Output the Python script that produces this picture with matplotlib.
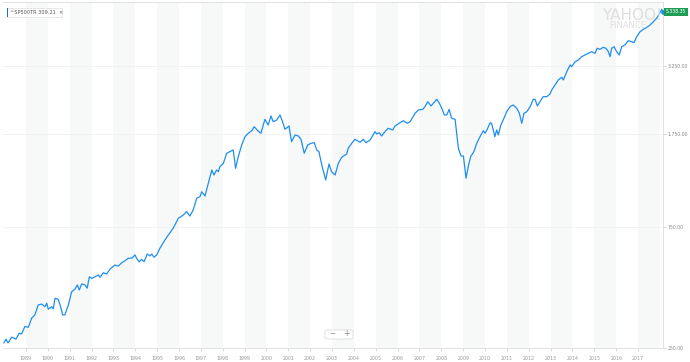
import matplotlib
matplotlib.use("Agg")
import matplotlib.pyplot as plt
from matplotlib.patches import FancyBboxPatch, Rectangle
from matplotlib.ticker import NullLocator

# ---- data ----
years = [1987.99, 1988.09, 1988.18, 1988.35, 1988.54, 1988.69, 1988.80, 1988.95,
         1989.11, 1989.26, 1989.41, 1989.56, 1989.72, 1989.87, 1989.95, 1990.02,
         1990.18, 1990.25, 1990.33, 1990.48, 1990.56, 1990.68, 1990.78, 1990.94,
         1991.09, 1991.24, 1991.35, 1991.44, 1991.55, 1991.70, 1991.80, 1991.90,
         1992.01, 1992.16, 1992.31, 1992.39, 1992.54, 1992.69, 1992.84, 1993.07,
         1993.22, 1993.38, 1993.53, 1993.68, 1993.84, 1993.99, 1994.06, 1994.18,
         1994.29, 1994.40, 1994.55, 1994.67, 1994.75, 1994.86, 1994.98, 1995.13,
         1995.28, 1995.44, 1995.59, 1995.74, 1995.97, 1996.20, 1996.35, 1996.50,
         1996.65, 1996.81, 1996.96, 1997.04, 1997.19, 1997.34, 1997.50, 1997.60,
         1997.72, 1997.80, 1997.87, 1998.03, 1998.18, 1998.33, 1998.48, 1998.59,
         1998.71, 1998.87, 1999.02, 1999.17, 1999.33, 1999.44, 1999.60, 1999.75,
         1999.93, 2000.08, 2000.21, 2000.31, 2000.47, 2000.62, 2000.72, 2000.85,
         2001.03, 2001.15, 2001.31, 2001.46, 2001.58, 2001.73, 2001.89, 2002.04,
         2002.19, 2002.30, 2002.40, 2002.55, 2002.71, 2002.86, 2002.98, 2003.14,
         2003.29, 2003.44, 2003.67, 2003.74, 2003.90, 2004.05, 2004.28, 2004.43,
         2004.55, 2004.74, 2004.97, 2005.04, 2005.16, 2005.27, 2005.42, 2005.57,
         2005.78, 2005.88, 2006.11, 2006.26, 2006.44, 2006.57, 2006.80, 2006.95,
         2007.15, 2007.25, 2007.38, 2007.53, 2007.66, 2007.79, 2007.91, 2008.02,
         2008.14, 2008.25, 2008.36, 2008.47, 2008.63, 2008.78, 2008.90, 2009.01,
         2009.13, 2009.23, 2009.34, 2009.49, 2009.62, 2009.77, 2009.92, 2010.00,
         2010.10, 2010.23, 2010.30, 2010.45, 2010.53, 2010.61, 2010.72, 2010.84,
         2010.99, 2011.14, 2011.29, 2011.45, 2011.57, 2011.68, 2011.78, 2011.91,
         2012.06, 2012.21, 2012.29, 2012.39, 2012.51, 2012.66, 2012.82, 2012.97,
         2013.05, 2013.20, 2013.35, 2013.51, 2013.58, 2013.74, 2013.89, 2013.96,
         2014.12, 2014.27, 2014.42, 2014.57, 2014.72, 2014.88, 2015.03, 2015.13,
         2015.26, 2015.41, 2015.53, 2015.64, 2015.72, 2015.79, 2015.90, 2016.02,
         2016.14, 2016.25, 2016.40, 2016.55, 2016.71, 2016.81, 2016.94, 2017.09,
         2017.24, 2017.40, 2017.55, 2017.70, 2017.85, 2017.97, 2018.08, 2018.14]

values = [262, 271, 262, 276, 271, 286, 284, 304,
          302, 328, 338, 370, 373, 364, 376, 356,
          364, 357, 393, 389, 370, 338, 338, 370,
          417, 427, 444, 424, 448, 444, 431, 478,
          471, 478, 486, 476, 496, 490, 512, 532,
          527, 543, 553, 566, 566, 583, 566, 548,
          560, 548, 588, 578, 588, 571, 583, 620,
          652, 685, 714, 745, 814, 839, 865, 831,
          878, 977, 991, 1037, 997, 1120, 1264, 1207,
          1264, 1244, 1302, 1343, 1471, 1493, 1516, 1283,
          1426, 1587, 1711, 1765, 1807, 1874, 1807, 1765,
          2004, 1903, 2066, 1961, 1992, 2085, 1979, 1830,
          1886, 1635, 1738, 1722, 1671, 1471, 1587, 1611,
          1620, 1516, 1493, 1302, 1154, 1334, 1244, 1207,
          1343, 1418, 1462, 1540, 1611, 1671, 1626, 1671,
          1620, 1660, 1791, 1754, 1774, 1722, 1791, 1847,
          1819, 1886, 1943, 1979, 1933, 1961, 2117, 2182,
          2195, 2248, 2353, 2263, 2332, 2405, 2319, 2216,
          2085, 2085, 2195, 2023, 2004, 1540, 1435, 1435,
          1172, 1302, 1426, 1493, 1611, 1711, 1807, 1765,
          1830, 1943, 1933, 1711, 1819, 1738, 1900, 2001,
          2148, 2248, 2283, 2216, 2117, 1933, 2117, 2148,
          2248, 2405, 2405, 2263, 2353, 2462, 2462, 2524,
          2617, 2739, 2867, 2938, 2867, 3091, 3286, 3235,
          3386, 3439, 3544, 3599, 3655, 3709, 3655, 3825,
          3790, 3860, 3825, 3709, 3544, 3825, 3881, 3709,
          3599, 3881, 3942, 4099, 4062, 4025, 4251, 4449,
          4547, 4631, 4729, 4873, 5026, 5227, 5455, 5338.35]

x_ticks = list(range(1989, 2018))
x_tick_labels = [str(y) for y in x_ticks]
y_ticks = [250, 750, 1750, 3250]
y_tick_labels = ["250.00", "750.00", "1,750.00", "3,250.00"]
last_label = "5,338.35"
legend_text = "^SP500TR 309.21  \u00d7"

W, H = 690, 362
fig = plt.figure(figsize=(W / 100, H / 100), dpi=100)
fig.patch.set_facecolor("white")
ax = fig.add_axes([3 / W, 14 / H, 660 / W, 346 / H])
ax.set_yscale("log")
ax.set_xlim(1987.95, 2018.14)
ax.set_ylim(250, 5830)

# alternating year bands
for y0 in range(1989, 2018, 2):
    ax.axvspan(y0, y0 + 1, color="#f7f8f8", lw=0, zorder=0)
# faint horizontal grid
for v in y_ticks[1:]:
    ax.axhline(v, color="#f0f0f0", lw=0.6, zorder=0.5)

line_color = "#1f8ef1"
ax.plot(years, values, color=line_color, lw=0.9, zorder=3, solid_joinstyle="round")
ax.plot(years[-1], values[-1], "o", ms=2.4, color=line_color, zorder=4)

ax.spines["left"].set_visible(False)
for side in ["top", "bottom", "right"]:
    ax.spines[side].set_color("#dddddd")
    ax.spines[side].set_linewidth(0.6)

ax.yaxis.tick_right()
ax.set_yticks(y_ticks)
ax.set_yticklabels(y_tick_labels)
ax.yaxis.set_minor_locator(NullLocator())
ax.tick_params(axis="y", which="both", length=2, width=0.5, color="#cccccc",
               labelsize=3.3, labelcolor="#888888", pad=1.2)
ax.set_xticks(x_ticks)
ax.set_xticklabels(x_tick_labels)
ax.tick_params(axis="x", length=2.5, width=0.5, color="#cccccc",
               labelsize=3.4, labelcolor="#999999", pad=3)

# last value tag
ax.annotate(last_label, xy=(1.0, values[-1]), xycoords=ax.get_yaxis_transform(),
            xytext=(2.2, 0), textcoords="offset points", ha="left", va="center",
            fontsize=3.3, color="white",
            bbox=dict(boxstyle="square,pad=0.35", fc="#1f9d55", ec="none"),
            annotation_clip=False, zorder=6)

# legend chip
fig.patches.append(Rectangle((7 / W, 1 - 17 / H), 55 / W, 9 / H, transform=fig.transFigure,
                             fc="white", ec="#dddddd", lw=0.5, zorder=5))
fig.patches.append(Rectangle((7 / W, 1 - 17 / H), 1.2 / W, 9 / H, transform=fig.transFigure,
                             fc="#1f6fd1", ec="none", zorder=6))
fig.text(10 / W, 1 - 12.5 / H, legend_text, fontsize=3.6, color="#555555",
         va="center", ha="left", zorder=7)

# watermark
fig.text(632 / W, 1 - 15 / H, "YAHOO!", fontsize=11, color="#dedede",
         ha="center", va="center", zorder=1)
fig.text(628 / W, 1 - 26 / H, "FINANCE", fontsize=6, color="#dedede",
         ha="center", va="center", zorder=1)

# zoom buttons
fig.patches.append(FancyBboxPatch((325 / W, 1 - 339 / H), 28 / W, 9 / H,
                                  boxstyle="round,pad=0,rounding_size=0.004",
                                  transform=fig.transFigure, fc="white",
                                  ec="#dddddd", lw=0.6, zorder=5))
fig.text(332 / W, 1 - 334 / H, "\u2212", fontsize=5, color="#888888",
         ha="center", va="center", zorder=6)
fig.text(346 / W, 1 - 334 / H, "+", fontsize=5.5, color="#888888",
         ha="center", va="center", zorder=6)
fig.lines.append(plt.Line2D([339 / W, 339 / W], [1 - 337 / H, 1 - 331 / H],
                            transform=fig.transFigure, color="#dddddd", lw=0.5))

fig.savefig("out.png", dpi=100)
